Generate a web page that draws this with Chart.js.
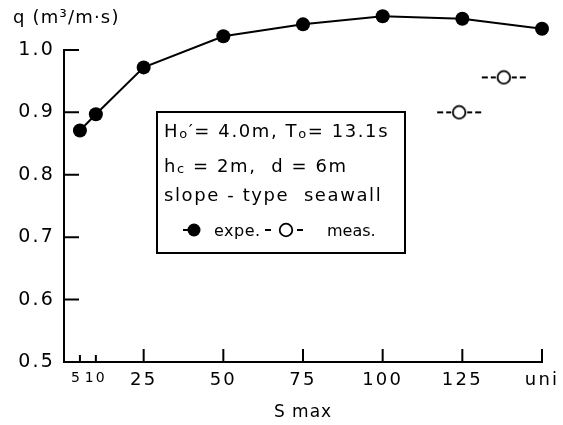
<!DOCTYPE html>
<html>
<head>
<meta charset="utf-8">
<script src="https://cdn.jsdelivr.net/npm/chart.js@4"></script>
<style>
  html, body { margin: 0; padding: 0; background: #fff; }
  #wrap { width: 563px; height: 425px; position: relative; }
</style>
</head>
<body>
<div id="wrap"><canvas id="c"></canvas></div>
<script>
// Overtopping rate q versus S max
const sMax = [5, 10, 25, 50, 75, 100, 125, 150];          // 150 = "uni"
const qExpe = [0.871, 0.897, 0.972, 1.022, 1.041, 1.054, 1.050, 1.034];
const sMaxMeas = [124, 138];
const qMeas = [0.900, 0.956];
const xTickValues = [5, 10, 25, 50, 75, 100, 125, 150];
const xTickLabels = ['5', '10', '25', '50', '75', '100', '125', 'uni'];
const yTickValues = [0.5, 0.6, 0.7, 0.8, 0.9, 1.0];
const yAxisTop = 1.0;

const FONT = "'DejaVu Sans', sans-serif";
const INK = '#000';

// open circle flanked by short dashes, used as the point style for measured values
function makeOpenMarker() {
  const c = document.createElement('canvas');
  c.width = 46; c.height = 16;
  const g = c.getContext('2d');
  g.strokeStyle = INK;
  g.lineWidth = 2;
  g.beginPath();
  [[1, 7], [10, 15], [31, 36], [39, 45]].forEach(([a, b]) => { g.moveTo(a, 8); g.lineTo(b, 8); });
  g.stroke();
  g.lineWidth = 1.8;
  g.beginPath();
  g.arc(23, 8, 6.3, 0, Math.PI * 2);
  g.fillStyle = '#fff';
  g.fill();
  g.stroke();
  return c;
}

// draws a line of text made of normal and subscript pieces
function drawRich(ctx, parts, x, y, size) {
  let cx = x;
  parts.forEach(p => {
    const s = p.sub ? size * 0.72 : size;
    ctx.font = s + 'px ' + FONT;
    ctx.fillText(p.t, cx, p.sub ? y + size * 0.06 : y);
    cx += ctx.measureText(p.t).width;
  });
}

// keep the plot area exactly where the layout puts it
function noAutoPadding(s) {
  s.paddingTop = 0; s.paddingBottom = 0; s.paddingLeft = 0; s.paddingRight = 0;
}

const decorations = {
  id: 'decorations',
  beforeDraw(chart) {
    // wide, airy lettering for the tick labels
    chart.ctx.letterSpacing = '2.2px';
  },
  afterDraw(chart) {
    const ctx = chart.ctx;
    const xs = chart.scales.x, ys = chart.scales.y;
    ctx.save();
    ctx.strokeStyle = INK;
    ctx.fillStyle = INK;
    ctx.lineWidth = 2;

    // vertical axis line, ending at the top tick
    ctx.beginPath();
    ctx.moveTo(xs.left, ys.bottom + 1);
    ctx.lineTo(xs.left, ys.getPixelForValue(yAxisTop) - 1);
    ctx.stroke();

    // inward tick marks
    ctx.beginPath();
    yTickValues.forEach(v => {
      const py = ys.getPixelForValue(v);
      ctx.moveTo(xs.left, py);
      ctx.lineTo(xs.left + 15, py);
    });
    xTickValues.forEach(v => {
      const px = xs.getPixelForValue(v);
      const len = v <= 10 ? 7 : 13;
      ctx.moveTo(px, ys.bottom);
      ctx.lineTo(px, ys.bottom - len);
    });
    ctx.stroke();

    // axis titles
    ctx.textBaseline = 'middle';
    ctx.textAlign = 'left';
    ctx.letterSpacing = '1.2px';
    ctx.font = '18px ' + FONT;
    ctx.fillText('q (m³/m·s)', 13, 18);
    ctx.textAlign = 'center';
    ctx.letterSpacing = '1px';
    ctx.font = '17px ' + FONT;
    ctx.fillText('S max', (xs.left + xs.right) / 2, 413);

    // annotation box
    ctx.lineWidth = 2;
    ctx.strokeRect(157, 112, 248, 141);
    ctx.textAlign = 'left';
    ctx.textBaseline = 'alphabetic';
    ctx.letterSpacing = '1.6px';
    const fs = 18;
    drawRich(ctx, [{ t: 'H' }, { t: 'o', sub: true }, { t: '′= 4.0m, T' }, { t: 'o', sub: true }, { t: '= 13.1s' }], 164, 137, fs);
    drawRich(ctx, [{ t: 'h' }, { t: 'c', sub: true }, { t: ' = 2m,  d = 6m' }], 164, 172, fs);
    drawRich(ctx, [{ t: 'slope - type  seawall' }], 164, 201, fs);

    // legend row
    const ly = 230;
    ctx.beginPath();
    ctx.moveTo(183, ly); ctx.lineTo(195, ly);
    ctx.stroke();
    ctx.beginPath();
    ctx.arc(194, ly, 6.5, 0, Math.PI * 2);
    ctx.fill();
    ctx.font = '16px ' + FONT;
    ctx.letterSpacing = '0.5px';
    ctx.fillText('expe.', 214, ly + 6);
    ctx.letterSpacing = '0px';
    ctx.fillText('meas.', 327, ly + 6);
    ctx.beginPath();
    ctx.moveTo(265, ly); ctx.lineTo(271, ly);
    ctx.moveTo(297, ly); ctx.lineTo(303, ly);
    ctx.stroke();
    ctx.beginPath();
    ctx.lineWidth = 1.8;
    ctx.arc(286, ly, 6.3, 0, Math.PI * 2);
    ctx.stroke();
    ctx.restore();
  }
};

new Chart(document.getElementById('c'), {
  type: 'scatter',
  data: {
    datasets: [
      {
        label: 'expe.',
        data: sMax.map((s, i) => ({ x: s, y: qExpe[i] })),
        showLine: true,
        borderColor: INK,
        borderWidth: 2,
        backgroundColor: INK,
        pointRadius: 7,
        pointHoverRadius: 7,
        pointBorderWidth: 0,
        clip: false
      },
      {
        label: 'meas.',
        data: sMaxMeas.map((s, i) => ({ x: s, y: qMeas[i] })),
        showLine: false,
        pointStyle: makeOpenMarker(),
        clip: false
      }
    ]
  },
  options: {
    responsive: true,
    maintainAspectRatio: false,
    animation: false,
    events: [],
    layout: { autoPadding: false, padding: { left: 0, top: 0, right: 21, bottom: 0 } },
    plugins: { legend: { display: false }, tooltip: { enabled: false } },
    scales: {
      x: {
        type: 'linear',
        min: 0,
        max: 150,
        grid: { display: false, drawTicks: false },
        border: { display: true, color: INK, width: 2 },
        afterBuildTicks: s => { s.ticks = xTickValues.map(v => ({ value: v })); },
        afterFit: s => { s.height = 63; noAutoPadding(s); },
        ticks: {
          autoSkip: false,
          maxRotation: 0,
          padding: 8,
          color: INK,
          font: c => ({ family: FONT, size: (c.tick && c.tick.value <= 10) ? 14 : 18 }),
          // the two crowded small labels are nudged apart with a trailing space
          callback: v => {
            const label = xTickLabels[xTickValues.indexOf(v)];
            return v === 5 ? label + ' ' : label;
          }
        }
      },
      y: {
        min: 0.5,
        max: 1.08,
        grid: { display: false, drawTicks: false },
        border: { display: false },
        afterBuildTicks: s => { s.ticks = yTickValues.map(v => ({ value: v })); },
        afterFit: s => { s.width = 64; noAutoPadding(s); },
        ticks: {
          padding: 9,
          color: INK,
          font: { family: FONT, size: 19 },
          callback: v => v.toFixed(1)
        }
      }
    }
  },
  plugins: [decorations]
});
</script>
</body>
</html>
